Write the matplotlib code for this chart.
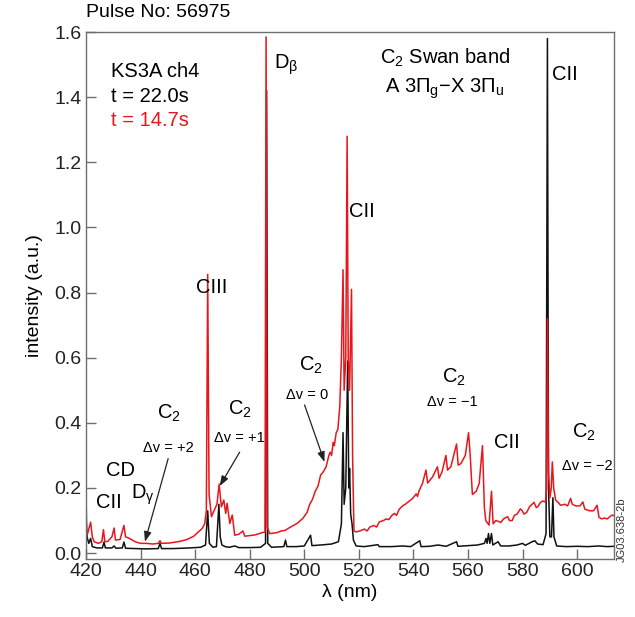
import matplotlib

matplotlib.use("Agg")

import matplotlib.pyplot as plt

plt.rcParams["font.family"] = ["Liberation Sans", "DejaVu Sans"]
plt.rcParams["mathtext.fontset"] = "custom"
plt.rcParams["mathtext.rm"] = "Liberation Sans"
plt.rcParams["mathtext.it"] = "Liberation Sans:italic"

# spectrum at t = 14.7 s (red)
wl_red = [
    420.0, 420.6, 421.2, 421.7, 422.3, 423.0, 424.5, 425.8, 426.4, 426.9,
    428.0, 429.5, 430.3, 430.8, 432.5, 433.9, 434.5, 436.0, 438.0, 440.0,
    442.2, 444.5, 446.5, 447.1, 447.6, 450.5, 454.4, 457.0, 459.5, 460.5,
    462.5, 463.5, 464.1, 464.6, 465.1, 466.0, 467.0, 468.0, 468.8, 469.6,
    470.5, 471.2, 471.7, 472.7, 473.6, 474.5, 476.0, 477.5, 478.2, 480.0,
    482.0, 484.2, 485.6, 486.0, 486.4, 487.3, 490.0, 491.5, 493.0, 494.5,
    496.0, 497.5, 499.5, 501.0, 502.0, 503.0, 504.0, 505.0, 506.0, 507.0,
    508.0, 509.0, 509.5, 510.0, 510.6, 511.0, 511.7, 512.3, 513.0, 513.6,
    514.2, 514.6, 515.2, 515.7, 516.1, 516.6, 517.3, 517.7, 518.2, 519.0,
    521.0, 522.0, 523.0, 524.0, 525.5, 526.5, 527.5, 529.0, 530.0, 531.0,
    532.0, 533.0, 533.8, 534.8, 536.0, 537.0, 538.5, 539.7, 541.0, 541.5,
    542.0, 543.3, 544.6, 545.2, 547.0, 548.8, 549.4, 550.5, 551.9, 552.5,
    553.7, 555.8, 556.4, 557.4, 559.0, 560.2, 560.8, 561.6, 563.0, 564.1,
    565.3, 566.0, 566.5, 567.7, 568.6, 569.2, 570.2, 571.0, 572.0, 573.0,
    574.5, 575.2, 576.2, 577.0, 578.0, 579.2, 579.9, 580.5, 581.5, 582.5,
    583.5, 584.2, 585.0, 585.5, 586.5, 587.3, 588.4, 588.8, 589.1, 589.5,
    590.0, 590.5, 590.9, 591.4, 592.1, 593.0, 593.9, 595.5, 596.5, 597.6,
    598.2, 599.5, 601.0, 602.1, 602.8, 604.6, 606.0, 607.3, 608.0, 609.0,
    610.0, 611.0, 612.0, 612.8, 613.5,
]
int_red = [
    0.073, 0.060, 0.080, 0.095, 0.050, 0.035, 0.030, 0.035, 0.072, 0.035,
    0.036, 0.050, 0.077, 0.040, 0.042, 0.085, 0.050, 0.045, 0.035, 0.030,
    0.030, 0.028, 0.030, 0.038, 0.030, 0.031, 0.036, 0.042, 0.052, 0.060,
    0.075, 0.090, 0.130, 0.856, 0.180, 0.112, 0.132, 0.150, 0.212, 0.142,
    0.163, 0.122, 0.153, 0.091, 0.117, 0.055, 0.058, 0.068, 0.052, 0.054,
    0.056, 0.062, 0.065, 1.585, 0.080, 0.060, 0.063, 0.068, 0.070, 0.078,
    0.085, 0.092, 0.107, 0.125, 0.150, 0.165, 0.190, 0.205, 0.240, 0.250,
    0.265, 0.300, 0.310, 0.300, 0.340, 0.330, 0.370, 0.380, 0.450, 0.600,
    0.870, 0.500, 0.600, 1.280, 0.600, 0.500, 0.810, 0.300, 0.068, 0.065,
    0.070, 0.074, 0.068, 0.080, 0.085, 0.080, 0.096, 0.100, 0.105, 0.103,
    0.115, 0.122, 0.116, 0.135, 0.145, 0.150, 0.160, 0.168, 0.182, 0.174,
    0.190, 0.214, 0.255, 0.215, 0.234, 0.265, 0.230, 0.250, 0.300, 0.255,
    0.265, 0.335, 0.270, 0.275, 0.300, 0.370, 0.300, 0.180, 0.190, 0.214,
    0.330, 0.140, 0.100, 0.086, 0.190, 0.090, 0.100, 0.098, 0.094, 0.105,
    0.112, 0.100, 0.100, 0.116, 0.120, 0.136, 0.130, 0.120, 0.125, 0.142,
    0.150, 0.156, 0.140, 0.142, 0.155, 0.160, 0.157, 0.200, 0.720, 0.250,
    0.170, 0.200, 0.280, 0.200, 0.163, 0.156, 0.147, 0.150, 0.145, 0.168,
    0.150, 0.145, 0.145, 0.157, 0.135, 0.130, 0.130, 0.147, 0.110, 0.105,
    0.108, 0.105, 0.112, 0.117, 0.115,
]

# spectrum at t = 22.0 s (black)
wl_black = [
    420.0, 420.15, 420.4, 421.0, 421.7, 422.3, 424.0, 426.0, 426.6, 427.1,
    429.5, 430.3, 431.0, 433.3, 433.9, 434.5, 438.0, 442.0, 446.5, 447.1,
    447.7, 452.0, 458.0, 462.0, 463.8, 464.6, 465.2, 466.5, 467.8, 468.7,
    469.2, 469.8, 471.0, 472.5, 474.5, 476.0, 480.0, 484.0, 485.8, 486.2,
    486.6, 488.0, 492.5, 493.1, 493.6, 497.0, 500.0, 502.3, 502.8, 506.0,
    510.0, 512.5, 513.6, 514.2, 514.6, 515.2, 515.9, 516.3, 516.6, 517.0,
    517.5, 518.0, 519.0, 522.0, 527.0, 527.5, 532.0, 536.0, 539.0, 542.3,
    542.8, 546.0, 549.0, 552.0, 555.8, 556.3, 560.0, 563.5, 566.0, 566.6,
    567.0, 567.5, 568.0, 568.6, 569.1, 571.0, 572.0, 575.0, 578.0, 580.0,
    581.0, 583.5, 584.5, 585.5, 587.5, 588.6, 589.1, 589.5, 590.0, 590.6,
    591.1, 591.5, 592.5, 596.0, 600.0, 604.0, 608.0, 611.0, 613.5,
]
int_black = [
    0.210, 0.100, 0.050, 0.030, 0.045, 0.020, 0.016, 0.016, 0.034, 0.016,
    0.016, 0.022, 0.015, 0.016, 0.034, 0.015, 0.014, 0.013, 0.014, 0.030,
    0.014, 0.014, 0.016, 0.018, 0.025, 0.130, 0.030, 0.018, 0.020, 0.150,
    0.050, 0.025, 0.020, 0.018, 0.022, 0.017, 0.017, 0.018, 0.030, 1.420,
    0.030, 0.018, 0.020, 0.040, 0.020, 0.020, 0.022, 0.055, 0.023, 0.025,
    0.028, 0.035, 0.090, 0.370, 0.150, 0.200, 0.590, 0.200, 0.260, 0.120,
    0.090, 0.040, 0.022, 0.020, 0.026, 0.020, 0.020, 0.022, 0.020, 0.038,
    0.020, 0.021, 0.025, 0.021, 0.035, 0.021, 0.023, 0.025, 0.030, 0.045,
    0.030, 0.060, 0.030, 0.060, 0.025, 0.035, 0.022, 0.022, 0.025, 0.030,
    0.024, 0.035, 0.038, 0.028, 0.026, 0.060, 1.580, 0.200, 0.050, 0.050,
    0.170, 0.050, 0.022, 0.020, 0.021, 0.020, 0.022, 0.020, 0.021,
]

RED = "#e8161c"
GREY = "#6e6e6e"

fig = plt.figure(figsize=(6.35, 6.17), dpi=100)
ax = fig.add_axes([86 / 635, 1 - 559 / 617, (614 - 86) / 635, (559 - 32) / 617])

ax.plot(wl_black, int_black, color="#111111", linewidth=1.1)
ax.plot(wl_red, int_red, color=RED, linewidth=1.1)

ax.set_xlim(420, 613.5)
ax.set_ylim(-0.018, 1.6)
ax.set_xticks(range(420, 601, 20))
ax.set_yticks([0.0, 0.2, 0.4, 0.6, 0.8, 1.0, 1.2, 1.4, 1.6])
ax.set_yticklabels(["0.0", "0.2", "0.4", "0.6", "0.8", "1.0", "1.2", "1.4", "1.6"])
ax.tick_params(direction="in", length=7.5, width=1, labelsize=14, pad=3, labelcolor="#222222", color=GREY)
for sp in ax.spines.values():
    sp.set_color(GREY)
    sp.set_linewidth(1.0)

ax.set_xlabel("λ (nm)", fontsize=14, labelpad=3)
ax.set_ylabel("intensity (a.u.)", fontsize=14, labelpad=8)

big = 14.5
small = 10.5
ax.text(0.0, 1.02, "Pulse No: 56975", transform=ax.transAxes, fontsize=14, ha="left", va="bottom")
ax.text(0.048, 0.925, "KS3A ch4", transform=ax.transAxes, fontsize=big, va="center")
ax.text(0.048, 0.878, "t = 22.0s", transform=ax.transAxes, fontsize=big, va="center")
ax.text(0.048, 0.832, "t = 14.7s", transform=ax.transAxes, fontsize=big, va="center", color=RED)

ax.text(489.0, 1.50, "D$_\\mathregular{β}$", fontsize=big, va="center")
ax.text(551.5, 1.52, "C$_\\mathregular{2}$ Swan band", fontsize=big, ha="center", va="center")
ax.text(551.5, 1.425, "A 3Π$_\\mathregular{g}$−X 3Π$_\\mathregular{u}$", fontsize=big, ha="center", va="center")
ax.text(590.8, 1.47, "CII", fontsize=big, va="center")
ax.text(466.0, 0.815, "CIII", fontsize=big, ha="center", va="center")
ax.text(516.5, 1.05, "CII", fontsize=big, va="center")
ax.text(574.3, 0.34, "CII", fontsize=big, ha="center", va="center")
ax.text(428.4, 0.155, "CII", fontsize=big, ha="center", va="center")
ax.text(432.8, 0.255, "CD", fontsize=big, ha="center", va="center")
ax.text(440.8, 0.18, "D$_\\mathregular{γ}$", fontsize=big, ha="center", va="center")

c2_x = [450.5, 476.3, 502.3, 555.0, 602.4]
c2_y = [0.43, 0.44, 0.577, 0.54, 0.37]
dv_x = [450.2, 476.3, 501.2, 554.2, 603.6]
dv_y = [0.322, 0.353, 0.485, 0.464, 0.267]
dv_text = ["Δv = +2", "Δv = +1", "Δv = 0", "Δv = −1", "Δv = −2"]
for cx, cy, dx, dy, s in zip(c2_x, c2_y, dv_x, dv_y, dv_text):
    ax.text(cx, cy, "C$_\\mathregular{2}$", fontsize=big, ha="center", va="center")
    ax.text(dx, dy, s, fontsize=small, ha="center", va="center")

arrows = [((450.1, 0.29), (441.6, 0.035)), ((476.3, 0.31), (469.0, 0.206)), ((500.1, 0.455), (507.4, 0.28))]
for start, end in arrows:
    ax.annotate("", xy=end, xytext=start,
                arrowprops=dict(arrowstyle="-|>,head_length=0.6,head_width=0.22", color="#222222", lw=0.9,
                                shrinkA=0, shrinkB=0))

fig.text(622 / 635, 1 - 530 / 617, "JG03.638-2b", rotation=90, fontsize=8, ha="center", va="center", color="#333333")

fig.savefig("out.png", dpi=100)
